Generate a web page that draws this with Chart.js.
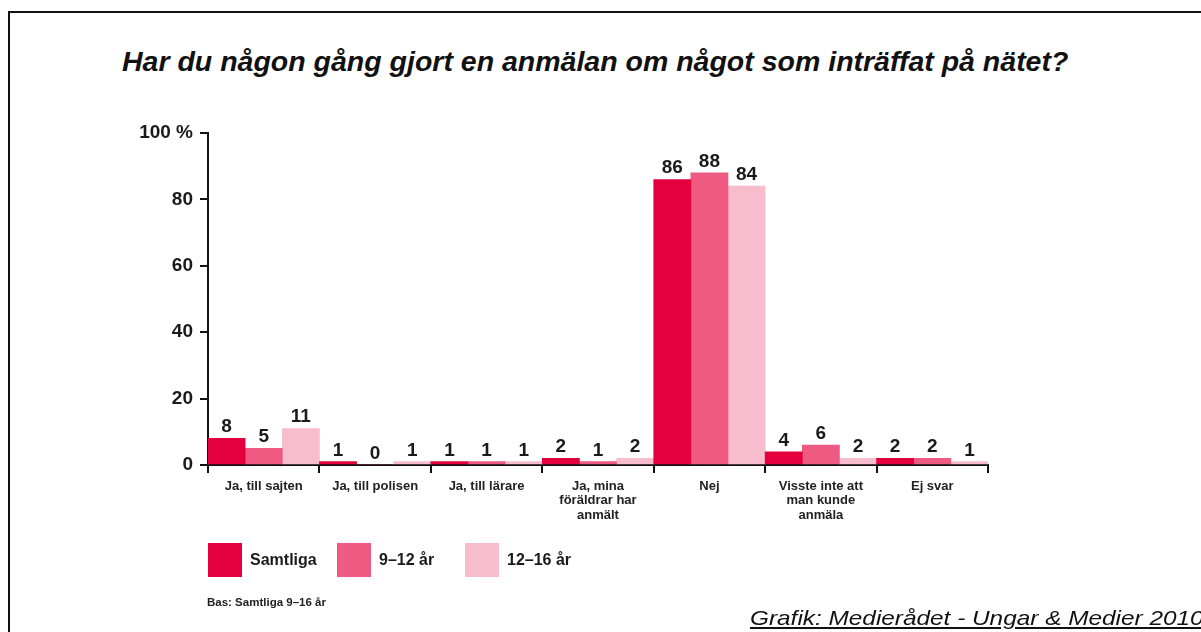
<!DOCTYPE html>
<html>
<head>
<meta charset="utf-8">
<script src="https://cdn.jsdelivr.net/npm/chart.js@4.4.1/dist/chart.umd.min.js"></script>
<style>
  html, body { margin:0; padding:0; background:#fff; }
  body { width:1201px; height:632px; position:relative; overflow:hidden; font-family:"Liberation Sans", Arial, sans-serif; }
  #frame { position:absolute; left:8px; top:11px; width:1300px; height:700px; border-left:2px solid #111; border-top:2px solid #111; }
  #title { position:absolute; left:122px; top:45px; font-size:28.5px; font-weight:bold; font-style:italic; color:#111; white-space:nowrap; }
  #wrap { position:absolute; left:0; top:0; width:1201px; height:632px; }
  .leg { position:absolute; top:543px; height:34px; display:flex; align-items:center; font-size:16px; font-weight:bold; color:#1a1a1a; }
  .leg span.sw { display:inline-block; width:34px; height:34px; margin-right:8px; }
  #bas { position:absolute; left:207px; top:596px; font-size:11.5px; font-weight:bold; color:#222; }
  #credit { position:absolute; left:750px; top:606px; font-size:21px; font-style:italic; text-decoration:underline; color:#111; white-space:nowrap; transform:scaleX(1.16); transform-origin:left top; }
</style>
</head>
<body>
<div id="frame"></div>
<div id="title">Har du någon gång gjort en anmälan om något som inträffat på nätet?</div>
<div id="wrap"><canvas id="c" width="1201" height="632"></canvas></div>
<div id="legend"></div>
<div id="bas">Bas: Samtliga 9–16 år</div>
<div id="credit">Grafik: Medierådet - Ungar &amp; Medier 2010</div>
<script>
const categories = [
  ["Ja, till sajten"],
  ["Ja, till polisen"],
  ["Ja, till lärare"],
  ["Ja, mina", "föräldrar har", "anmält"],
  ["Nej"],
  ["Visste inte att", "man kunde", "anmäla"],
  ["Ej svar"]
];
const seriesNames = ["Samtliga", "9–12 år", "12–16 år"];
const samtliga = [8, 1, 1, 2, 86, 4, 2];
const age9to12 = [5, 0, 1, 1, 88, 6, 2];
const age12to16 = [11, 1, 1, 2, 84, 2, 1];
const yTicks = [0, 20, 40, 60, 80, 100];
const colors = ["#E4003C", "#EE5A82", "#F8BDCC"];

// legend (HTML)
const legLeft = [208, 337, 465];
const legendEl = document.getElementById('legend');
seriesNames.forEach((n, i) => {
  const d = document.createElement('div');
  d.className = 'leg';
  d.style.left = legLeft[i] + 'px';
  d.innerHTML = '<span class="sw" style="background:' + colors[i] + '"></span>' + n;
  legendEl.appendChild(d);
});

const valueLabels = {
  id: 'valueLabels',
  afterDatasetsDraw(chart) {
    const ctx = chart.ctx;
    ctx.save();
    ctx.font = 'bold 19px "Liberation Sans", Arial, sans-serif';
    ctx.fillStyle = '#1a1a1a';
    ctx.textAlign = 'center';
    ctx.textBaseline = 'alphabetic';
    chart.data.datasets.forEach((ds, di) => {
      const meta = chart.getDatasetMeta(di);
      meta.data.forEach((bar, i) => {
        ctx.fillText(String(ds.data[i]), bar.x, bar.y - 6);
      });
    });
    ctx.restore();
  }
};

new Chart(document.getElementById('c'), {
  type: 'bar',
  data: {
    labels: categories,
    datasets: [
      { label: seriesNames[0], data: samtliga, backgroundColor: colors[0] },
      { label: seriesNames[1], data: age9to12, backgroundColor: colors[1] },
      { label: seriesNames[2], data: age12to16, backgroundColor: colors[2] }
    ]
  },
  options: {
    responsive: false,
    animation: false,
    devicePixelRatio: 1,
    layout: { padding: { left: 0, top: 133, right: 213, bottom: 107 } },
    datasets: { bar: { barPercentage: 1, categoryPercentage: 1, borderWidth: 0 } },
    plugins: { legend: { display: false }, tooltip: { enabled: false }, title: { display: false } },
    scales: {
      x: {
        grid: { drawOnChartArea: false, offset: true, color: '#111', lineWidth: 2, tickLength: 8 },
        border: { display: true, color: '#111', width: 2 },
        ticks: {
          color: '#222', padding: 6, maxRotation: 0, autoSkip: false,
          font: { family: '"Liberation Sans", Arial, sans-serif', size: 13, weight: 'bold', lineHeight: 1.12 }
        },
        afterFit(s) { s.height = 60; }
      },
      y: {
        min: 0, max: 100,
        afterBuildTicks(s) { s.ticks = yTicks.map(v => ({ value: v })); },
        grid: { drawOnChartArea: false, color: '#111', lineWidth: 2, tickLength: 8 },
        border: { display: true, color: '#111', width: 2 },
        ticks: {
          color: '#1a1a1a', padding: 7,
          font: { family: '"Liberation Sans", Arial, sans-serif', size: 19, weight: 'bold' },
          callback: (v) => v === 100 ? '100 %' : String(v)
        },
        afterFit(s) { s.width = 208; }
      }
    }
  },
  plugins: [valueLabels]
});
</script>
</body>
</html>
